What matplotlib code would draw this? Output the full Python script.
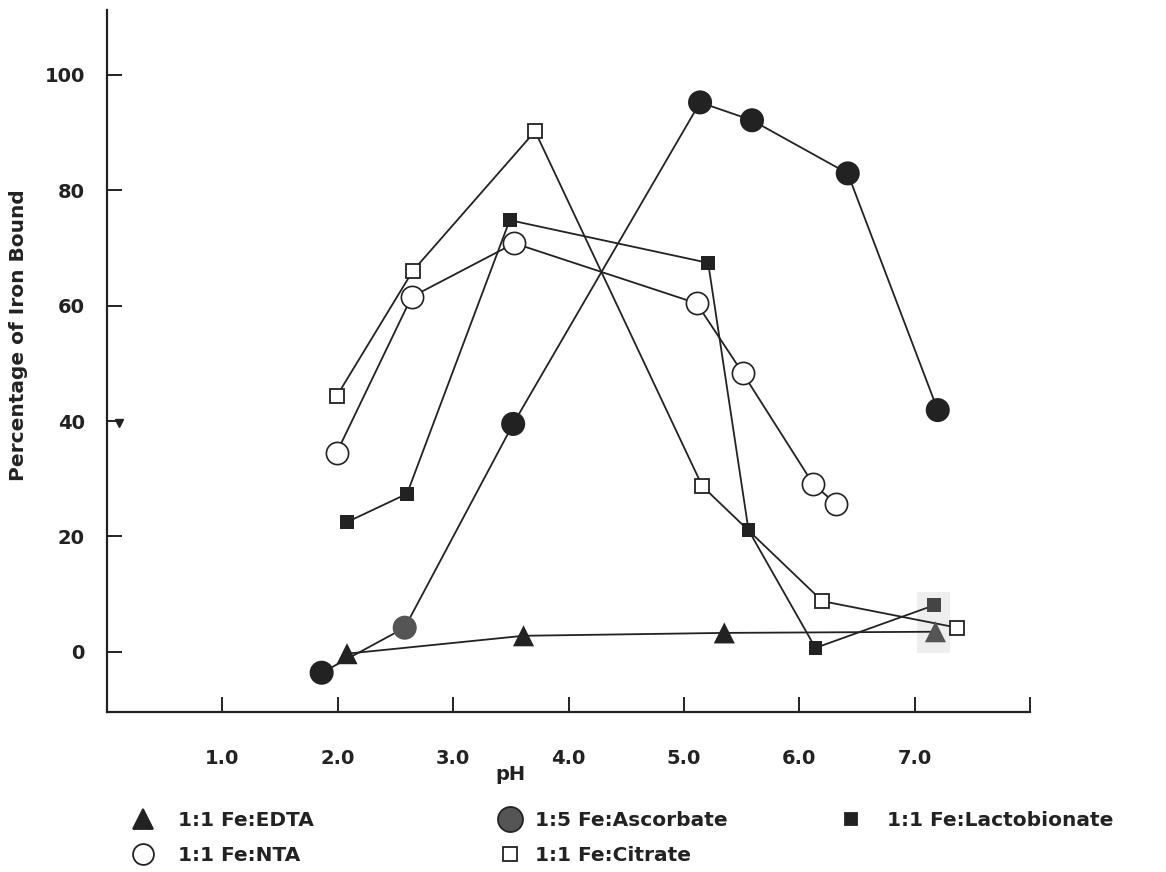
import matplotlib.pyplot as plt
from matplotlib.lines import Line2D
from matplotlib.patches import Rectangle

plt.rcParams['font.family'] = ['DejaVu Sans']
plt.rcParams['font.weight'] = 'bold'
plt.rcParams['axes.labelweight'] = 'bold'

INK = '#222222'
GREY = '#555555'

# pH / percentage of iron bound for each chelate
edta_ph = [2.08, 3.61, 5.35, 7.18]
edta_pct = [-0.3, 2.8, 3.3, 3.5]

nta_ph = [1.99, 2.64, 3.53, 5.11, 5.51, 6.12, 6.32]
nta_pct = [34.5, 61.5, 70.8, 60.4, 48.3, 29.1, 25.6]

asc_ph = [1.86, 2.58, 3.52, 5.14, 5.59, 6.42, 7.20]
asc_pct = [-3.6, 4.2, 39.5, 95.2, 92.1, 82.9, 41.9]

cit_ph = [1.99, 2.65, 3.71, 5.16, 6.20, 7.37]
cit_pct = [44.3, 66.0, 90.2, 28.7, 8.8, 4.2]

lac_ph = [2.08, 2.60, 3.49, 5.21, 5.56, 6.14, 7.17]
lac_pct = [22.5, 27.4, 74.8, 67.4, 21.1, 0.7, 8.1]

xticks = [1, 2, 3, 4, 5, 6, 7, 8]
xlabels = ['1.0', '2.0', '3.0', '4.0', '5.0', '6.0', '7.0', '']
yticks = [0, 20, 40, 60, 80, 100]

fig = plt.figure(figsize=(11.66, 8.72), dpi=100)
ax = fig.add_axes([0.0918, 0.1835, 0.7916, 0.805])

# faint grey smudge behind the last points
ax.add_patch(Rectangle((7.02, -0.2), 0.29, 10.6, color='#eeeeee', lw=0, zorder=0))

lw = 1.3
ax.plot(cit_ph, cit_pct, '-s', color=INK, lw=lw, ms=10, mfc='white', mec=INK, mew=1.3)
ax.plot(nta_ph, nta_pct, '-o', color=INK, lw=lw, ms=16, mfc='white', mec=INK, mew=1.2)
lac_cols = [INK] * 6 + ['#444444']
ax.plot(lac_ph, lac_pct, '-', color=INK, lw=lw)
ax.scatter(lac_ph, lac_pct, s=100, marker='s', c=lac_cols, zorder=3, linewidths=0)
ax.plot(asc_ph, asc_pct, '-', color=INK, lw=lw)
asc_cols = [INK, GREY, INK, INK, INK, INK, INK]
ax.scatter(asc_ph, asc_pct, s=300, c=asc_cols, zorder=3, linewidths=0)
ax.plot(edta_ph, edta_pct, '-', color=INK, lw=lw)
edta_cols = [INK, INK, INK, GREY]
ax.scatter(edta_ph, edta_pct, s=230, marker='^', c=edta_cols, zorder=3, linewidths=0)

ax.set_xlim(0, 8)
ax.set_ylim(-10.4, 111.2)
for s in ['top', 'right']:
    ax.spines[s].set_visible(False)
for s in ['left', 'bottom']:
    ax.spines[s].set_linewidth(1.6)
    ax.spines[s].set_color(INK)

ax.set_xticks(xticks)
ax.set_xticklabels(xlabels)
ax.set_yticks(yticks)
ax.tick_params(axis='x', direction='in', length=11, width=1.4, pad=27, labelsize=14, colors=INK)
ax.tick_params(axis='y', direction='in', length=11, width=1.4, pad=16, labelsize=14, colors=INK)
# small stray mark at the 40 tick
ax.plot([0.1], [39.6], 'v', color=INK, ms=6, clip_on=False)

ax.set_xlabel('pH', fontsize=14, color=INK)
ax.xaxis.set_label_coords(0.4366, -0.0755)
ax.set_ylabel('Percentage of Iron Bound', fontsize=14.5, color=INK)
ax.yaxis.set_label_coords(-0.0856, 0.537)

def key(marker, ms, fc, label):
    return Line2D([], [], ls='none', marker=marker, ms=ms, mfc=fc, mec=INK, mew=1.3, label=label)

W = 1166.0
cols = [
    ([key('^', 15, INK, '1:1 Fe:EDTA'), key('o', 15, 'white', '1:1 Fe:NTA')], 123 / W, 1.15),
    ([key('o', 18, GREY, '1:5 Fe:Ascorbate'), key('s', 10, 'white', '1:1 Fe:Citrate')], 490 / W, 0.65),
    ([key('s', 9, INK, '1:1 Fe:Lactobionate')], 831 / W, 1.2),
]
for handles, x0, pad in cols:
    leg = fig.legend(handles=handles, loc='upper left', bbox_to_anchor=(x0, 0.079),
                     frameon=False, fontsize=14.5, handlelength=1.2, handletextpad=pad,
                     labelspacing=0.78, borderaxespad=0)
    for t in leg.get_texts():
        t.set_color(INK)

fig.savefig('out.png', dpi=100)
